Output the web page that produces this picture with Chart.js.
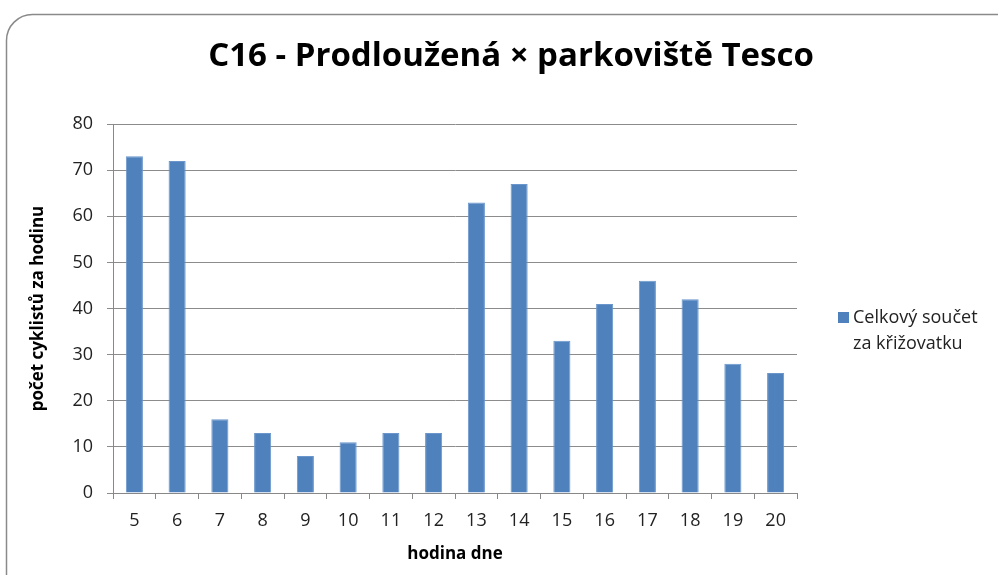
<!DOCTYPE html>
<html>
<head>
<meta charset="utf-8">
<script src="https://cdn.jsdelivr.net/npm/chart.js@4/dist/chart.umd.min.js"></script>
<style>
  html, body { margin: 0; padding: 0; background: #fff; }
  #wrap { width: 998px; height: 575px; }
</style>
</head>
<body>
<div id="wrap"><canvas id="barChart" width="998" height="575"></canvas></div>
<script>
// hodiny dne a pocty cyklistu
var hodiny = ['5', '6', '7', '8', '9', '10', '11', '12', '13', '14', '15', '16', '17', '18', '19', '20'];
var pocty = [73, 72, 16, 13, 8, 11, 13, 13, 63, 67, 33, 41, 46, 42, 28, 26];
var nazevSerie = ['Celkový součet', 'za křižovatku'];
var nadpis = 'C16 - Prodloužená × parkoviště Tesco';

var pismo = "'Open Sans', 'Noto Sans', sans-serif";

// ramecek kolem grafu (zaoblene rohy jako v Excelu) + nadpis
var ramecek = {
    id: 'ramecek',
    beforeDraw: function(chart) {
        var ctx = chart.ctx;
        var x = 6.5, y = 14.5, w = 1000, h = 600, r = 26;
        ctx.save();
        ctx.fillStyle = '#fff';
        ctx.fillRect(0, 0, chart.width, chart.height);
        ctx.strokeStyle = '#8a8a8a';
        ctx.lineWidth = 1.5;
        ctx.beginPath();
        ctx.moveTo(x, y + h);
        ctx.lineTo(x, y + r);
        ctx.arcTo(x, y, x + r, y, r);
        ctx.lineTo(x + w, y);
        ctx.stroke();

        ctx.fillStyle = '#000';
        ctx.font = 'bold 33px ' + pismo;
        ctx.textAlign = 'center';
        ctx.textBaseline = 'middle';
        ctx.fillText(nadpis, 511, 57);
        ctx.restore();
    }
};

// legenda vpravo, dva radky textu
var legenda = {
    id: 'legenda',
    afterDraw: function(chart) {
        var ctx = chart.ctx;
        var ds = chart.data.datasets[0];
        ctx.save();
        ctx.fillStyle = ds.backgroundColor;
        ctx.fillRect(838, 312, 11, 11);
        ctx.fillStyle = '#222';
        ctx.font = '18px ' + pismo;
        ctx.textBaseline = 'middle';
        ctx.textAlign = 'left';
        for (var i = 0; i < nazevSerie.length; i++) {
            ctx.fillText(nazevSerie[i], 853, 318 + i * 26);
        }
        ctx.restore();
    }
};

var chart = new Chart(document.getElementById('barChart'), {
    type: 'bar',
    data: {
        labels: hodiny,
        datasets: [{
            label: nazevSerie.join(' '),
            data: pocty,
            backgroundColor: '#4F81BD',
            borderColor: '#6a96cc',
            borderWidth: { top: 1, left: 1, right: 1, bottom: 0 },
            barPercentage: 0.4,
            categoryPercentage: 1.0
        }]
    },
    options: {
        responsive: false,
        animation: false,
        devicePixelRatio: 1,
        layout: { padding: { top: 124, left: 28, right: 201, bottom: 0 } },
        plugins: {
            legend: { display: false },
            tooltip: { enabled: false },
            title: { display: false }
        },
        scales: {
            x: {
                grid: { display: true, drawOnChartArea: false, offset: true, color: '#888', tickLength: 6 },
                border: { color: '#888' },
                ticks: { color: '#222', font: { family: pismo, size: 18 }, padding: 11, maxRotation: 0 },
                title: {
                    display: true, text: 'hodina dne', color: '#000',
                    font: { family: pismo, size: 17, weight: 'bold' },
                    padding: { top: 0, bottom: 11 }
                },
                afterFit: function(s) { s.height = 82; }
            },
            y: {
                min: 0, max: 80,
                ticks: { stepSize: 10, color: '#222', font: { family: pismo, size: 18 }, padding: 14 },
                grid: { color: '#8c8c8c', tickLength: 6 },
                border: { color: '#888' },
                title: {
                    display: true, text: 'počet cyklistů za hodinu', color: '#000',
                    font: { family: pismo, size: 17, weight: 'bold' },
                    padding: { top: 0, bottom: 0 }
                },
                afterFit: function(s) { s.width = 113 - 28; }
            }
        }
    },
    plugins: [ramecek, legenda]
});
</script>
</body>
</html>
